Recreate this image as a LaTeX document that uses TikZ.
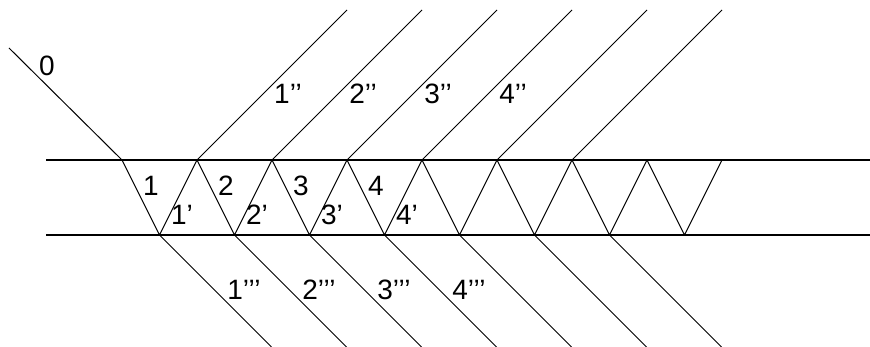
\documentclass[tikz,border=0pt]{standalone}
\usepackage{fontspec}
\setmainfont{Liberation Sans}
\usepackage{tikz}
\usetikzlibrary{calc}

\begin{document}
\begin{tikzpicture}[
  x=1pt, y=1pt,
  ray/.style={line width=1pt, line join=round},
  plate/.style={line width=2pt},
  lbl/.style={inner sep=0pt, font=\fontsize{28}{30}\selectfont},
]
\useasboundingbox (0,0) rectangle (870,347);

% =================== plate surfaces ===================
\coordinate (topL) at (46,187);
\coordinate (topR) at (870,187);
\coordinate (botL) at (46,112);
\coordinate (botR) at (870,112);
\draw[plate] (topL) -- (topR);
\draw[plate] (botL) -- (botR);

% hit points on the upper and lower face
\foreach \i in {0,...,8}
  \coordinate (t\i) at (122+75*\i,187);
\foreach \i in {0,...,7}
  \coordinate (b\i) at (159.5+75*\i,112);

% incoming ray 0
\coordinate (src) at (9,299);
\draw[ray] (src) -- (t0);
\node[lbl] (in0) at (47,281) {0};

% zigzag inside the plate
\foreach \i [evaluate=\i as \j using int(\i+1)] in {0,...,7}
  \draw[ray] (t\i) -- (b\i) -- (t\j);

% reflected rays above, transmitted rays below
\foreach \i in {1,...,6}
  \draw[ray] (t\i) -- ++(150,150);
\foreach \i in {0,...,6}
  \draw[ray] (b\i) -- ++(112,-112);

% labels
\foreach \i in {1,...,4} {
  \node[lbl] (lay\i) at (76+75*\i,161) {\i};
  \node[lbl] (back\i) at (107+75*\i,132) {\i’};
  \node[lbl] (refl\i) at (213+75*\i,253) {\i’’};
  \node[lbl] (trans\i) at (169+75*\i,57) {\i’’’};
}

\end{tikzpicture}
\end{document}
